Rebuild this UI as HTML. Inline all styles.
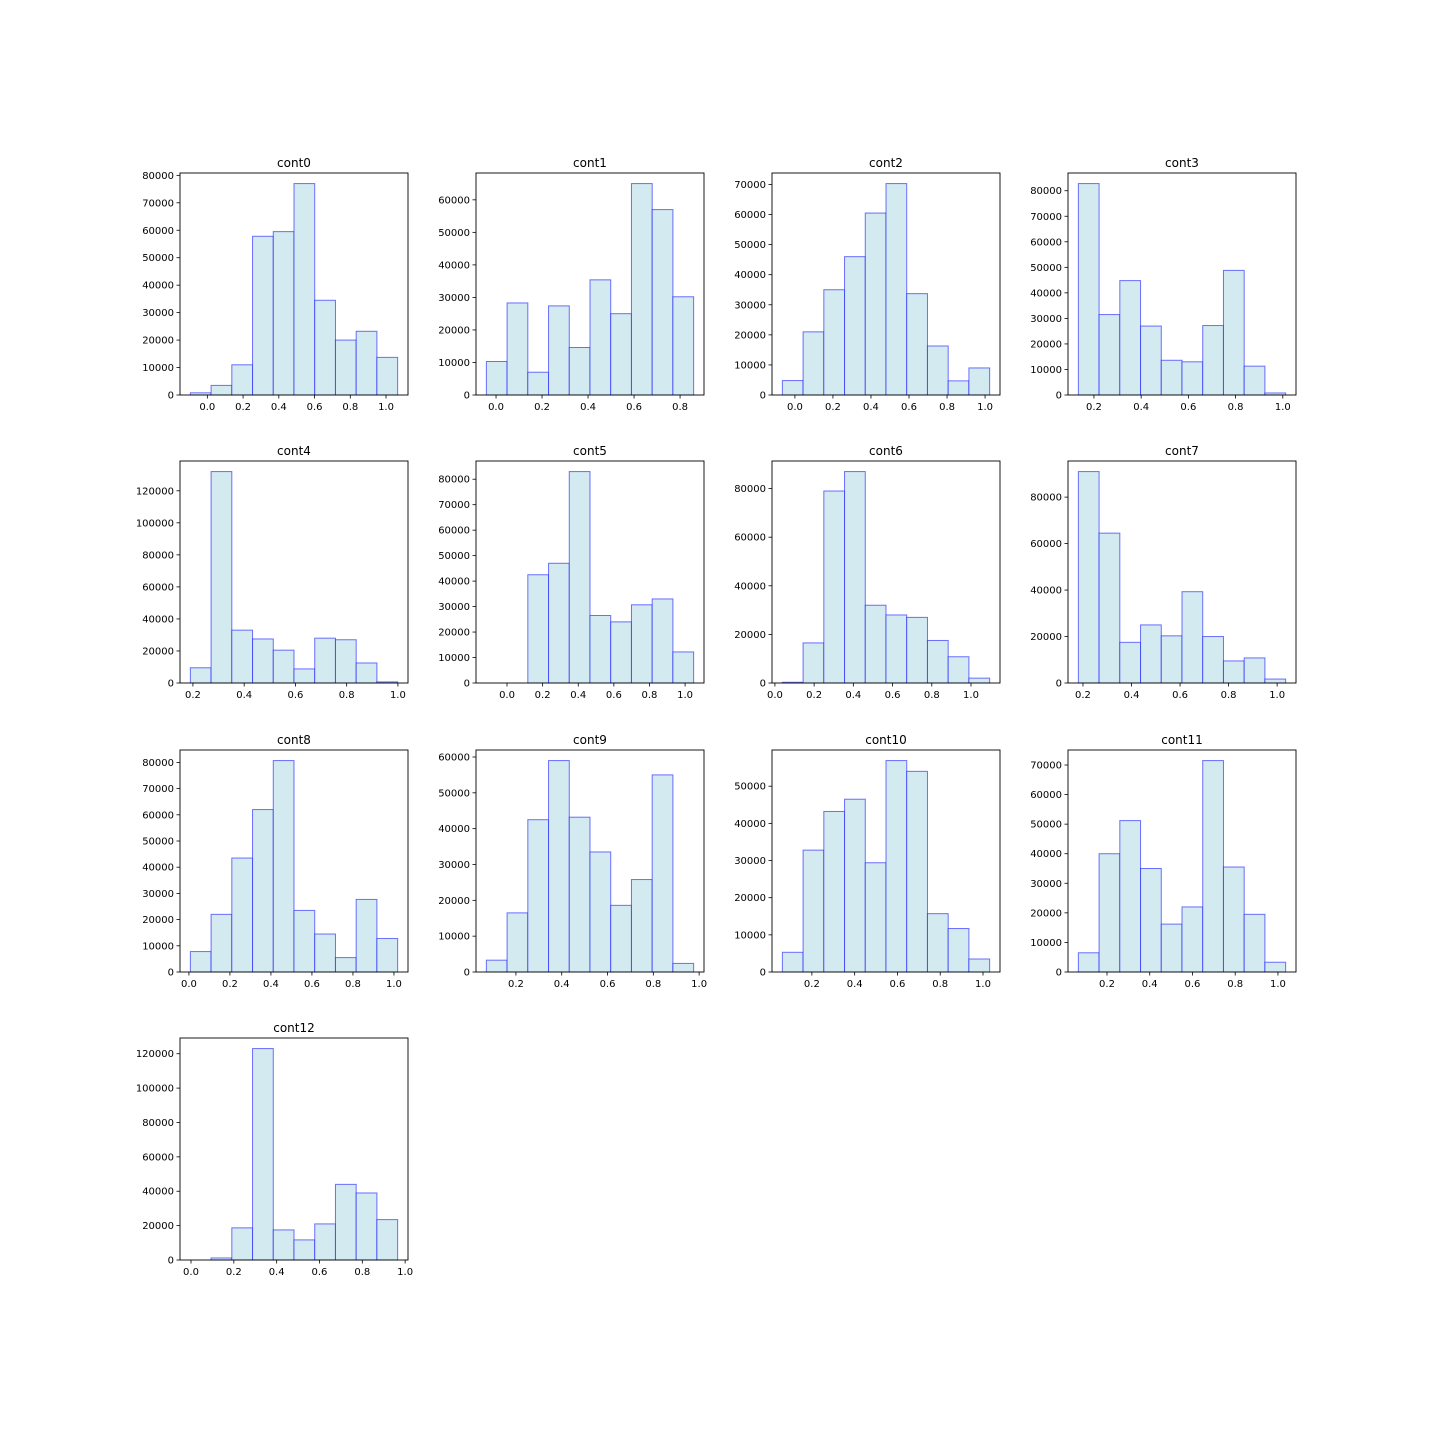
<!DOCTYPE html>
<html><head><meta charset="utf-8"><style>
body{margin:0;background:#fff;}
svg{display:block;font-family:"DejaVu Sans","Liberation Sans",sans-serif;}
</style></head><body>
<svg id="chart" width="1440" height="1440" xmlns="http://www.w3.org/2000/svg"></svg>
<script>
const titles = ["cont0","cont1","cont2","cont3","cont4","cont5","cont6","cont7","cont8","cont9","cont10","cont11","cont12"];
const counts0 = [800,3500,11000,57800,59500,77000,34500,20000,23200,13700];
const counts1 = [10300,28300,7000,27400,14600,35400,25000,65000,57000,30200];
const counts2 = [4800,21000,35000,46000,60500,70300,33700,16300,4700,9000];
const counts3 = [82800,31500,44800,27000,13600,13000,27200,48800,11300,800];
const counts4 = [9500,132000,33000,27500,20500,8800,28000,27000,12500,700];
const counts5 = [0,0,42500,47000,83000,26500,24000,30700,33000,12200];
const counts6 = [300,16500,79000,87000,32000,28000,27000,17500,10800,2000];
const counts7 = [91000,64500,17500,25000,20300,39300,20000,9500,10800,1700];
const counts8 = [7800,22000,43500,62000,80700,23500,14500,5500,27700,12800];
const counts9 = [3300,16500,42500,59000,43200,33500,18600,25800,55000,2400];
const counts10 = [5300,32800,43200,46500,29400,56900,54000,15700,11700,3500];
const counts11 = [6500,40000,51200,35000,16200,22000,71500,35500,19500,3300];
const counts12 = [0,1200,18700,123000,17500,11700,21000,44000,39000,23500];
const allCounts = [counts0,counts1,counts2,counts3,counts4,counts5,counts6,counts7,counts8,counts9,counts10,counts11,counts12];
const dataMin = [-0.095,-0.042,-0.066,0.134,0.19,-0.116,0.038,0.181,0.007,0.071,0.062,0.066,-0.003];
const dataMax = [1.065,0.859,1.024,1.012,0.999,1.048,1.095,1.035,1.018,0.976,1.031,1.036,0.965];
const yStep = [10000,10000,10000,10000,20000,10000,20000,20000,10000,10000,10000,10000,20000];
const xTicks = [0,0.2,0.4,0.6,0.8,1.0];

const NS="http://www.w3.org/2000/svg";
const svg=document.getElementById('chart');
function mk(tag,attrs,parent){const e=document.createElementNS(NS,tag);for(const k in attrs)e.setAttribute(k,attrs[k]);parent.appendChild(e);return e;}
const colX=[180,476,772,1068], rowY=[173,461,750,1038], W=228, H=222;

titles.forEach((t,i)=>{
  const x0=colX[i%4], y0=rowY[Math.floor(i/4)];
  const g=mk('g',{},svg);
  
  
  const c=allCounts[i], mn=dataMin[i], mx=dataMax[i], r=mx-mn;
  const xl=mn-0.05*r, xr=mx+0.05*r;
  const sx=v=>x0+(v-xl)/(xr-xl)*W;
  const ymax=Math.max(...c)*1.05;
  const sy=v=>y0+H-v/ymax*H;
  const bw=r/10;
  c.forEach((v,j)=>{
    if(v<=0) return;
    const a=sx(mn+j*bw), b=sx(mn+(j+1)*bw);
    const rect=mk('rect',{x:a,y:sy(v),width:b-a,height:sy(0)-sy(v),fill:'#d3eaf0',stroke:'rgba(0,0,255,0.55)','stroke-width':1},g);
    
    
  });
  const frame=mk('rect',{x:x0,y:y0,width:W,height:H,fill:'none',stroke:'#000','stroke-width':0.9},g);
  
  
  const tt=mk('text',{x:x0+W/2,y:y0-6,'text-anchor':'middle','font-size':12,fill:'#000'},g);
  tt.textContent=t;
  
  
  xTicks.forEach(v=>{
    const px=sx(v); if(px<x0-0.5||px>x0+W+0.5) return;
    mk('line',{x1:px,x2:px,y1:y0+H,y2:y0+H+3.5,stroke:'#000','stroke-width':0.8},g);
    const tx=mk('text',{x:px,y:y0+H+15,'text-anchor':'middle','font-size':10,fill:'#000'},g);
    tx.textContent=v.toFixed(1);
    
    
  });
  for(let v=0; v<=ymax; v+=yStep[i]){
    const py=sy(v);
    mk('line',{x1:x0-3.5,x2:x0,y1:py,y2:py,stroke:'#000','stroke-width':0.8},g);
    const ty=mk('text',{x:x0-6,y:py+3.5,'text-anchor':'end','font-size':10,fill:'#000'},g);
    ty.textContent=String(v);
    
    
  }
});
</script>
</body></html>
